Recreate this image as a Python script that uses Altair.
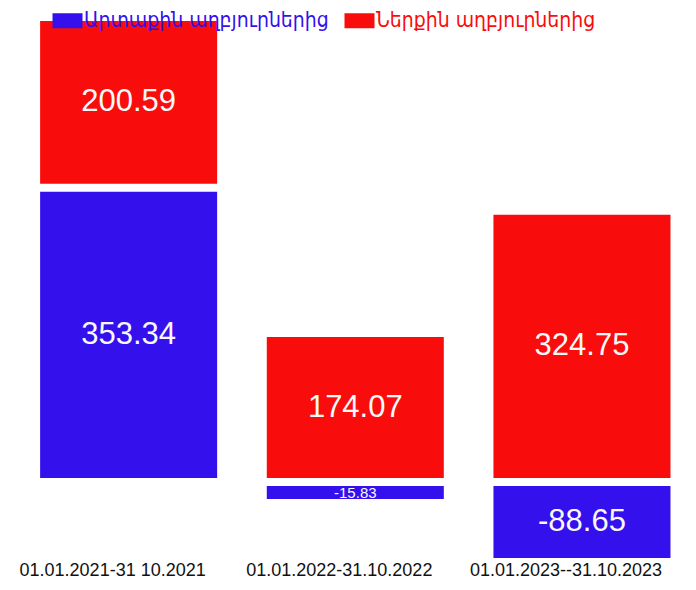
import altair as alt
import pandas as pd

periods = ["01.01.2021-31 10.2021", "01.01.2022-31.10.2022", "01.01.2023--31.10.2023"]
series = ["Արտաքին աղբյուրներից", "Ներքին աղբյուրներից"]
external = [353.34, -15.83, -88.65]
internal = [200.59, 174.07, 324.75]
colors = ["#3410EC", "#F90C0C"]

rows = []
for i, p in enumerate(periods):
    rows.append({"period": p, "source": series[0], "value": external[i], "order": 0})
    rows.append({"period": p, "source": series[1], "value": internal[i], "order": 1})
df = pd.DataFrame(rows)
df["label"] = df["value"].map(lambda v: f"{v:.2f}")

label_color = alt.ExprRef(f"datum.value === '{series[0]}' ? '{colors[0]}' : '{colors[1]}'")

GAP = 8

base = alt.Chart(df).transform_stack(
    stack="value", groupby=["period"], as_=["v0", "v1"], sort=[alt.SortField("order")]
).transform_calculate(
    mid="(datum.v0 + datum.v1) / 2"
).encode(
    x=alt.X(
        "period:N", sort=periods, title=None,
        scale=alt.Scale(paddingInner=0.219, paddingOuter=0.1095, align=0.647),
        axis=alt.Axis(labelAngle=0, ticks=False, domain=False, labelPadding=11,
                      labelFontSize=18, labelColor="#111111", labelFont="Liberation Sans",
                      labelOffset=-16, grid=False, labelLimit=0),
    )
)

y_scale = alt.Scale(nice=False, zero=True)

color_enc = alt.Color(
    "source:N", sort=series,
    scale=alt.Scale(domain=series, range=colors),
    legend=alt.Legend(
        orient="none", legendX=49, legendY=-19, direction="horizontal", title=None,
        symbolType="M-2,-1H2V1H-2Z", symbolSize=225, symbolStrokeWidth=0,
        labelFontSize=21, labelFont="DejaVu Sans Condensed, DejaVu Sans",
        labelColor=label_color, labelLimit=0, columnPadding=15, labelOffset=6,
        padding=0, symbolOpacity=1,
    ),
)

groups = [
    ("datum.value > 0 && datum.v0 == 0", 0),
    ("datum.value > 0 && datum.v0 > 0", -GAP),
    ("datum.value < 0", GAP),
]

layers = []
for test, off in groups:
    layers.append(
        base.transform_filter(test).mark_bar(yOffset=off, y2Offset=off).encode(
            y=alt.Y("v0:Q", axis=None, scale=y_scale),
            y2="v1:Q",
            color=color_enc,
        )
    )
for test, off in groups:
    layers.append(
        base.transform_filter(test).mark_text(
            color="#F8F8F8", font="Liberation Sans", baseline="middle", align="center", dy=off
        ).encode(
            y=alt.Y("mid:Q", axis=None, scale=y_scale),
            text="label:N",
            size=alt.condition("abs(datum.value) < 20", alt.value(15), alt.value(31)),
        )
    )

chart = alt.layer(*layers).properties(
    width=680, height=521,
    background="white",
    autosize=alt.AutoSizeParams(type="none"),
    padding={"left": 0, "right": 0, "top": 21, "bottom": 32},
).configure_view(strokeWidth=0, stroke=None)

chart.save("out.html", embed_options={"renderer": "svg", "actions": False})
